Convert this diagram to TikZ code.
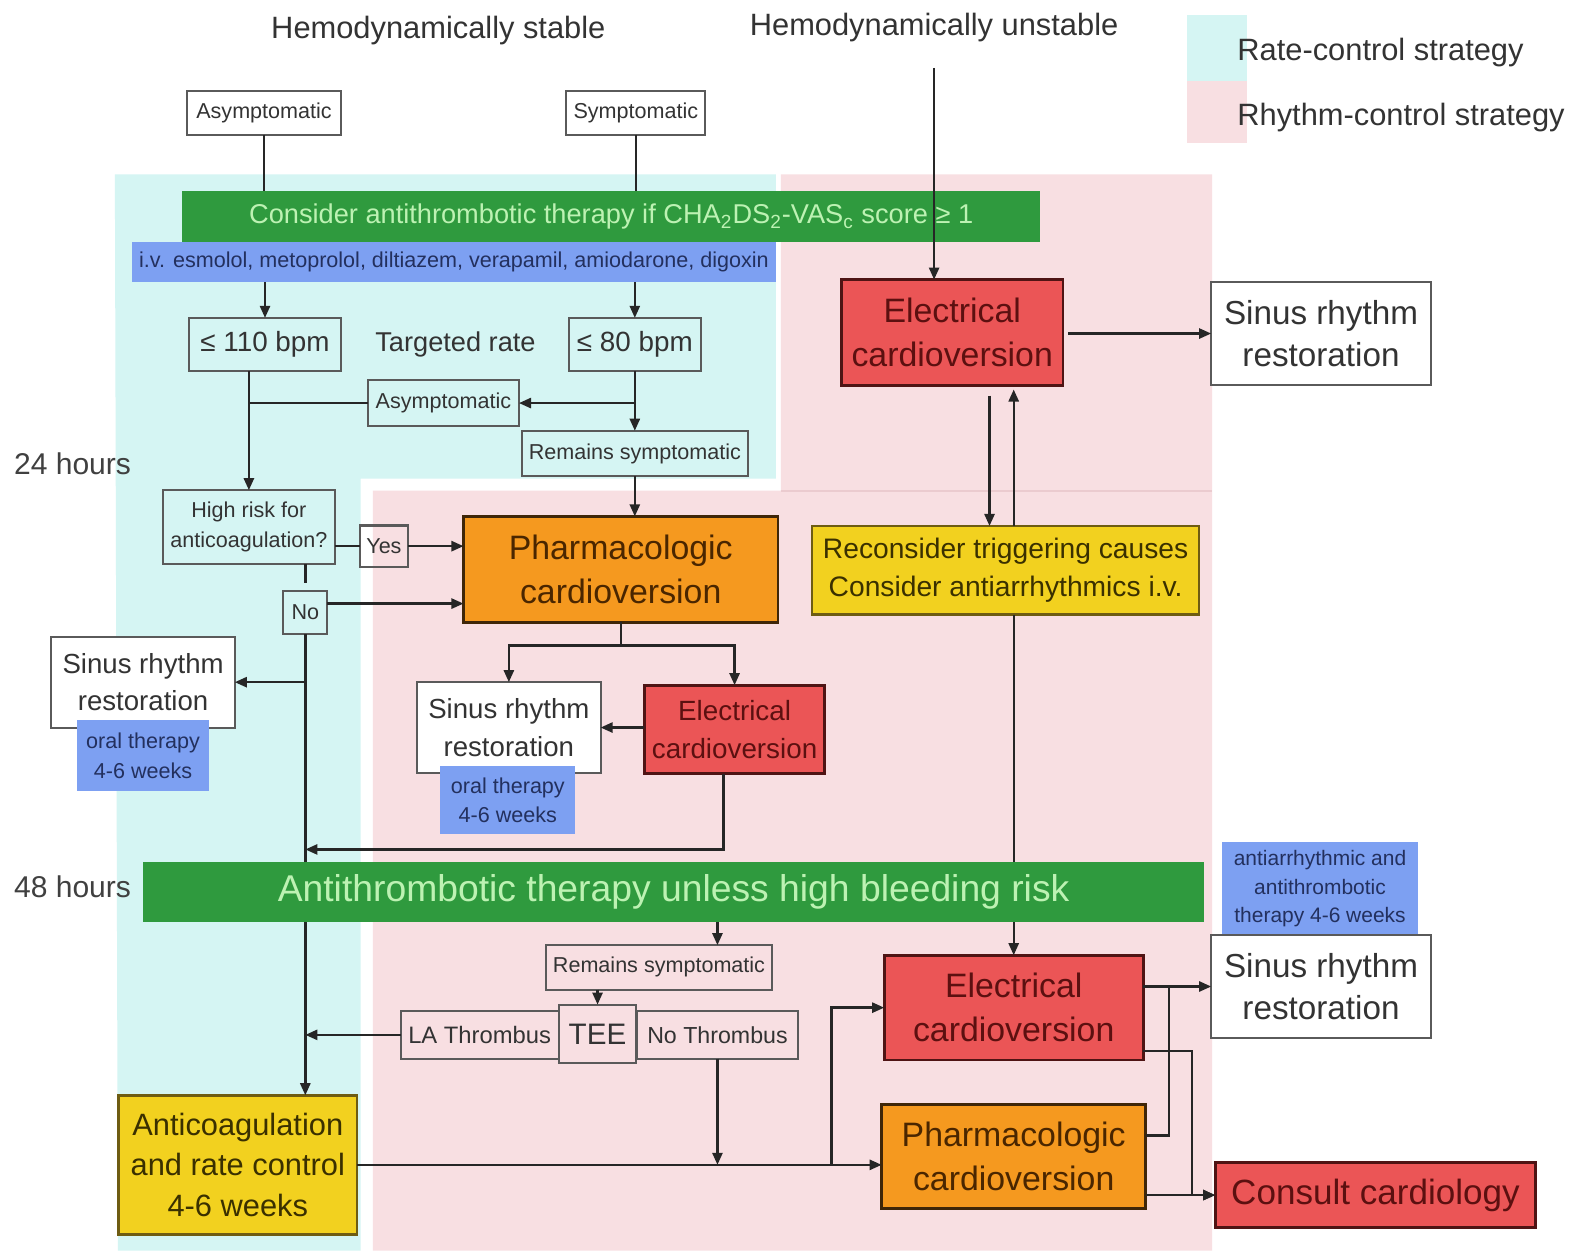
\documentclass[tikz,border=0pt]{standalone}
\usepackage{fontspec}
\setmainfont{Liberation Sans}
\usetikzlibrary{arrows.meta,calc}
\definecolor{cyanbg}{HTML}{D5F5F3}
\definecolor{pinkbg}{HTML}{F8DFE2}
\definecolor{pinkline}{HTML}{EBCBCF}
\definecolor{gbar}{HTML}{2F9A3E}
\definecolor{gtext}{HTML}{BDF2B3}
\definecolor{bluebox}{HTML}{7DA0F2}
\definecolor{bluetext}{HTML}{23305E}
\definecolor{redbox}{HTML}{EB5556}
\definecolor{redline}{HTML}{4F1414}
\definecolor{redtext}{HTML}{5C1010}
\definecolor{orbox}{HTML}{F5991F}
\definecolor{orline}{HTML}{3F2608}
\definecolor{ortext}{HTML}{4A2600}
\definecolor{yelbox}{HTML}{F2D11F}
\definecolor{yelline}{HTML}{6E5C12}
\definecolor{yeltext}{HTML}{3A3000}
\definecolor{boxgray}{HTML}{5A5A5A}
\definecolor{txt}{HTML}{333333}
\tikzset{
  base/.style={inner sep=0pt,outer sep=0pt,align=center,text=txt},
  fsmall/.style={font=\fontsize{10.7pt}{14.5pt}\selectfont},
  fmed/.style={font=\fontsize{13.7pt}{18.5pt}\selectfont},
  flarge/.style={font=\fontsize{16.8pt}{21.8pt}\selectfont},
  ftitle/.style={font=\fontsize{15.3pt}{18pt}\selectfont},
  sbox/.style={base,draw=boxgray,line width=1pt,fsmall},
  wbox/.style={base,draw=boxgray,line width=1pt,fill=white},
  bluelbl/.style={base,fill=bluebox,text=bluetext,fsmall},
  redbx/.style={base,fill=redbox,draw=redline,line width=1.4pt,text=redtext},
  orbx/.style={base,fill=orbox,draw=orline,line width=1.4pt,text=ortext,flarge},
  yelbx/.style={base,fill=yelbox,draw=yelline,line width=1.2pt,text=yeltext},
  gbarbx/.style={base,fill=gbar,text=gtext},
  lbl/.style={base},
  arr/.style={-{Triangle[length=6pt,width=5pt]},line width=1.2pt,draw=black!85},
  ln/.style={line width=1.2pt,draw=black!85},
}
\begin{document}
\begin{tikzpicture}[x=0.5pt,y=-0.5pt]
\useasboundingbox (0,0) rectangle (1568,1241);
\fill[white] (0,0) rectangle (1568,1241);
% strategy regions
\fill[cyanbg] (114,173) -- (770,173) -- (770,475) -- (358,475) -- (358,1241) -- (117,1241) -- cycle;
\fill[pinkbg] (775,173) -- (1203,173) -- (1203,1241) -- (370,1241) -- (370,487) -- (775,487) -- cycle;
\draw[pinkline,line width=1pt] (775,487) -- (1203,487);

% legend
\node[base,fill=cyanbg,minimum width=30pt,minimum height=32.5pt] (lgc) at (1208,47.5) {};
\node[base,fill=pinkbg,minimum width=30pt,minimum height=31pt] (lgp) at (1208,111) {};
\node[lbl,anchor=west,ftitle] (lgct) at (1228,52) {Rate-control strategy};
\node[lbl,anchor=west,ftitle] (lgpt) at (1228,117) {Rhythm-control strategy};

% titles
\node[lbl,ftitle] (tst) at (435,30) {Hemodynamically stable};
\node[lbl,ftitle] (tun) at (927,27) {Hemodynamically unstable};

% top boxes
\node[sbox,minimum width=76pt,minimum height=21.5pt] (asy1) at (262,112) {Asymptomatic};
\node[sbox,minimum width=69pt,minimum height=21.5pt] (sym1) at (631,112) {Symptomatic};

\node[gbarbx,minimum width=425.5pt,minimum height=25pt,font=\fontsize{13.5pt}{16pt}\selectfont] (g1) at (606.5,215)
  {Consider antithrombotic therapy if CHA\textsubscript{2}DS\textsubscript{2}-VAS\textsubscript{c} score ≥ 1};
\node[bluelbl,minimum width=319.5pt,minimum height=20pt] (bb) at (450.5,260)
  {i.v. esmolol, metoprolol, diltiazem, verapamil, amiodarone, digoxin};

\node[sbox,minimum width=75pt,minimum height=26.5pt,font=\fontsize{13.8pt}{16pt}\selectfont] (b110) at (263,342) {≤ 110 bpm};
\node[lbl,font=\fontsize{13.5pt}{16pt}\selectfont] (tr) at (452,342) {Targeted rate};
\node[sbox,minimum width=65.5pt,minimum height=26.5pt,font=\fontsize{13.8pt}{16pt}\selectfont] (b80) at (630,342) {≤ 80 bpm};
\node[sbox,minimum width=75pt,minimum height=23pt] (asy2) at (440,400) {Asymptomatic};
\node[sbox,minimum width=112pt,minimum height=22.5pt] (rem1) at (630,450) {Remains symptomatic};
\node[sbox,minimum width=85.5pt,minimum height=36.5pt] (hr) at (247,523) {High risk for\\anticoagulation?};
\node[sbox,minimum width=24pt,minimum height=20.5pt] (yes) at (381,542) {Yes};
\node[sbox,minimum width=22pt,minimum height=21.5pt] (no) at (303,608) {No};

\node[lbl,font=\fontsize{14.9pt}{18pt}\selectfont,text=black!75] (h24) at (72,460) {24 hours};
\node[lbl,font=\fontsize{14.9pt}{18pt}\selectfont,text=black!75] (h48) at (72,880) {48 hours};

\node[orbx,minimum width=156pt,minimum height=52.5pt] (ph1) at (616,565) {Pharmacologic\\cardioversion};

\node[wbox,minimum width=91pt,minimum height=45pt,fmed] (sr1) at (142,677) {Sinus rhythm\\restoration};
\node[bluelbl,minimum width=65.5pt,minimum height=35pt] (or1) at (142,750) {oral therapy\\4-6 weeks};
\node[wbox,minimum width=91pt,minimum height=45pt,fmed] (sr2) at (505,722) {Sinus rhythm\\restoration};
\node[bluelbl,minimum width=67pt,minimum height=34pt] (or2) at (504,794) {oral therapy\\4-6 weeks};
\node[redbx,minimum width=89.5pt,minimum height=44pt,font=\fontsize{13.8pt}{18.5pt}\selectfont] (ec2) at (729,724) {Electrical\\cardioversion};

\node[redbx,minimum width=110pt,minimum height=52.5pt,flarge] (ec1) at (945,330) {Electrical\\cardioversion};
\node[wbox,minimum width=109pt,minimum height=51pt,font=\fontsize{16.5pt}{20.5pt}\selectfont] (sr0) at (1311,331) {Sinus rhythm\\restoration};
\node[yelbx,minimum width=192pt,minimum height=44pt,font=\fontsize{14pt}{18.5pt}\selectfont] (rc) at (998,566) {Reconsider triggering causes\\Consider antiarrhythmics i.v.};

\node[gbarbx,minimum width=526.5pt,minimum height=30pt,font=\fontsize{18.5pt}{22pt}\selectfont] (g2) at (668.5,885) {Antithrombotic therapy unless high bleeding risk};

\node[sbox,minimum width=112.5pt,minimum height=22pt] (rem2) at (654,960) {Remains symptomatic};
\node[sbox,minimum width=78.5pt,minimum height=23.5pt,font=\fontsize{11.8pt}{14pt}\selectfont] (la) at (476,1027) {LA Thrombus};
\node[sbox,minimum width=80pt,minimum height=23.5pt,font=\fontsize{11.5pt}{14pt}\selectfont] (nt) at (712,1027) {No Thrombus};
\node[sbox,minimum width=38.5pt,minimum height=29pt,font=\fontsize{14.7pt}{17pt}\selectfont] (tee) at (593,1026) {TEE};

\node[yelbx,minimum width=118.5pt,minimum height=69pt,font=\fontsize{15.3pt}{20pt}\selectfont] (ac) at (236,1156) {Anticoagulation\\and rate control\\4-6 weeks};
\node[redbx,minimum width=128.5pt,minimum height=52pt,flarge] (ec3) at (1006,1000) {Electrical\\cardioversion};
\node[orbx,minimum width=131pt,minimum height=51.5pt] (ph3) at (1006,1148) {Pharmacologic\\cardioversion};
\node[bluelbl,minimum width=97.5pt,minimum height=46pt,font=\fontsize{10.4pt}{14pt}\selectfont] (bl3) at (1310,882) {antiarrhythmic and\\antithrombotic\\therapy 4-6 weeks};
\node[wbox,minimum width=109pt,minimum height=51pt,font=\fontsize{16.5pt}{20.5pt}\selectfont] (sr3) at (1311,979) {Sinus rhythm\\restoration};
\node[redbx,minimum width=159pt,minimum height=32.5pt,font=\fontsize{17.4pt}{20pt}\selectfont] (cc) at (1365,1186) {Consult cardiology};

% helper coordinates
\coordinate (y843) at (0,843);
\coordinate (x825) at (825,0);
\coordinate (x1160) at (1160,0);
\coordinate (x1183) at (1183,0);

% connectors: stable branch
\draw[ln] (asy1.south) -- (asy1.south |- g1.north);
\draw[ln] (sym1.south) -- (sym1.south |- g1.north);
\draw[arr] (bb.south -| b110.north) -- (b110.north);
\draw[arr] (bb.south -| b80.north) -- (b80.north);
\draw[arr] (b80.south) -- (rem1.north);
\draw[arr] (b80.south |- asy2.east) -- (asy2.east);
\draw[ln] (asy2.west) -- (asy2.west -| hr.north);
\draw[arr] (b110.south -| hr.north) -- (hr.north);
\draw[arr] (rem1.south) -- (rem1.south |- ph1.north);
\draw[ln] (hr.east |- yes.west) -- (yes.west);
\draw[arr] (yes.east) -- (yes.east -| ph1.west);
\draw[ln,shorten >=4pt] (hr.south -| no.north) -- (no.north);
\coordinate (nout) at ($(no.east)+(0,-9)$);
\draw[arr] (nout) -- (nout -| ph1.west);
\draw[ln] (no.south) -- (no.south |- g2.north);
\draw[arr] (no.south |- sr1.east) -- (sr1.east);
\draw[ln] (ph1.south) -- ++(0,23) coordinate (phj);
\draw[arr] (phj) -| (sr2.north);
\draw[arr] (phj) -| (ec2.north);
\draw[arr] (ec2.west |- sr2.east) -- (sr2.east);
\draw[arr] ([xshift=-5.5pt]ec2.south) |- (no.south |- y843);
\draw[arr] (no.south |- g2.south) -- (no.south |- ac.north);
\draw[arr] (nt.north |- g2.south) -- (nt.north |- rem2.north);
\draw[arr] (tee.north |- rem2.south) -- (tee.north);
\draw[arr] (la.west) -- (la.west -| no.south);
\draw[arr] (nt.south) -- (nt.south |- ac.east);
\draw[arr] (ac.east) -- (ac.east -| ph3.west);
\draw[arr] (x825 |- ac.east) |- (ec3.west);

% unstable branch
\draw[arr] ([yshift=-13pt]tun.south) -- (tun.south |- ec1.north);
\draw[arr,shorten <=2.5pt] (ec1.east |- sr0.west) -- (sr0.west);
\draw[arr] ([xshift=18.5pt,yshift=-5pt]ec1.south) -- ([xshift=18.5pt]ec1.south |- rc.north);
\draw[arr,shorten >=2pt] (ec3.north |- rc.north) -- (ec3.north |- ec1.south);
\draw[ln] (ec3.north |- rc.south) -- (ec3.north |- g2.north);
\draw[arr] (ec3.north |- g2.south) -- (ec3.north);

% bottom right
\draw[arr] (ec3.east |- sr3.west) -- (sr3.west);
\draw[ln] ([yshift=10.5pt]ph3.east) -| (x1160 |- sr3.west);
\draw[arr] ([yshift=-21.5pt]ec3.east) -| (x1183 |- cc.west) -- (cc.west);
\draw[arr] (ph3.east |- cc.west) -- (cc.west);
\end{tikzpicture}
\end{document}
